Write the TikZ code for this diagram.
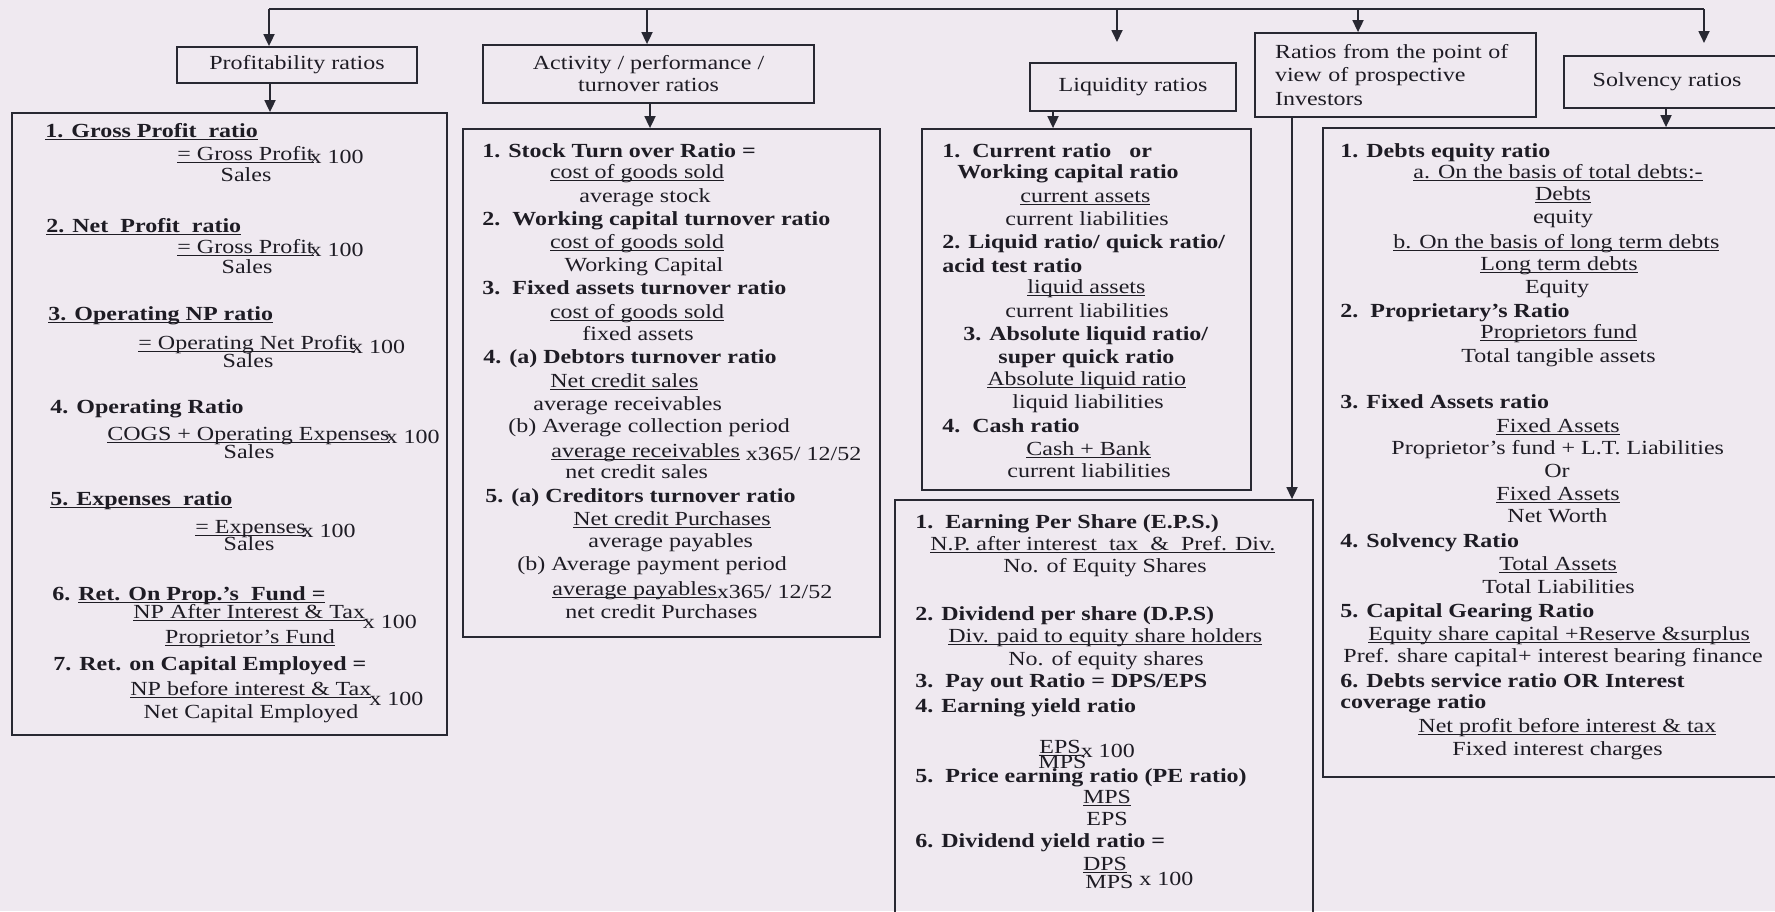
\documentclass[tikz,border=0pt]{standalone}
\usepackage{fontspec}
\setmainfont[FakeStretch=1.2]{Liberation Serif}
\newsavebox{\ulbox}
\newcommand{\uline}[1]{\sbox{\ulbox}{#1}\rlap{\rule[-1.6pt]{\wd\ulbox}{0.6pt}}\usebox{\ulbox}}
\usetikzlibrary{arrows.meta}
\definecolor{bg}{RGB}{239,233,240}
\definecolor{ink}{RGB}{30,28,36}
\definecolor{lnc}{RGB}{40,40,50}
\newcommand{\xh}[1]{\raisebox{#1}{x 100}}
\begin{document}
\begin{tikzpicture}[x=0.5pt,y=-0.5pt,
  lt/.style={anchor=west, inner sep=0pt, text height=7pt, text depth=2pt, text=ink},
  ct/.style={anchor=center, inner sep=0pt, text height=7pt, text depth=2pt, text=ink},
  bf/.style={font=\bfseries},
  hbox/.style={draw=lnc, line width=0.9pt, inner sep=0pt, align=center, text=ink},
  bbox/.style={draw=lnc, line width=0.9pt, inner sep=0pt},
  ln/.style={draw=lnc, line width=0.9pt},
  arr/.style={draw=lnc, line width=0.9pt, -{Triangle[width=5.5pt,length=6pt]}}]
\useasboundingbox (0,0) rectangle (1775,911);
\fill[bg] (0,0) rectangle (1775,911);
\clip (0,0) rectangle (1775,911);

% header boxes
\node[hbox, minimum width=120pt, minimum height=18pt] (prof) at (297,65) {Profitability ratios};
\node[hbox, minimum width=165.5pt, minimum height=29pt, font=\fontsize{10pt}{11pt}\selectfont] (act) at (648.5,74) {Activity / performance /\\ turnover ratios};
\node[hbox, minimum width=103pt, minimum height=24pt] (liq) at (1133,87) {Liquidity ratios};
\node[hbox, minimum width=140.5pt, minimum height=42pt, inner xsep=10pt, text width=120.5pt, align=left, font=\fontsize{10pt}{11.75pt}\selectfont] (inv) at (1395.5,75) {Ratios from the point of\\ view of prospective\\ Investors};
\node[hbox, minimum width=113pt, minimum height=26pt] (solv) at (1677,82) {\hspace*{-10pt}Solvency ratios};

% big boxes
\node[bbox, minimum width=217.5pt, minimum height=311pt] (b1) at (229.5,424) {};
\node[bbox, minimum width=208.5pt, minimum height=254pt] (b2) at (671.5,383) {};
\node[bbox, minimum width=164.5pt, minimum height=180.5pt] (b3) at (1086.5,309.5) {};
\node[bbox, minimum width=209pt, minimum height=215pt] (b4) at (1104,715) {};
\node[bbox, minimum width=233.5pt, minimum height=324.5pt] (b5) at (1556.5,452.5) {};

% connectors
\coordinate (t1) at (269,9);
\coordinate (t2) at (647,9);
\coordinate (t3) at (1117,9);
\coordinate (t4) at (1358,9);
\coordinate (t5) at (1704,9);
\coordinate (f3) at (1117,42);
\coordinate (f5) at (1704,43);
\draw[ln] (t1) -- (t5);
\draw[arr] (t1) -- (t1 |- prof.north);
\draw[arr] (t2) -- (t2 |- act.north);
\draw[arr] (t3) -- (f3);
\draw[arr] (t4) -- (t4 |- inv.north);
\draw[arr] (t5) -- (f5);
\coordinate (c1) at (270,0);
\coordinate (c2) at (650,0);
\coordinate (c3) at (1053,0);
\coordinate (c4) at (1292,0);
\coordinate (c5) at (1666,0);
\draw[arr] (prof.south -| c1) -- (b1.north -| c1);
\draw[arr] (act.south -| c2) -- (b2.north -| c2);
\draw[arr] (liq.south -| c3) -- (b3.north -| c3);
\draw[arr] (inv.south -| c4) -- (b4.north -| c4);
\draw[arr] (solv.south -| c5) -- (b5.north -| c5);

% box 1: profitability
\node[lt,bf] (p1) at (45,132) {\uline{1. Gross Profit\ \ ratio}};
\node[lt] (p2) at (177,155) {\uline{= Gross Profit}\kern-2pt\xh{-1.5pt}};
\node[ct] (p3) at (246,176) {Sales};
\node[lt,bf] (p4) at (46,227) {\uline{2. Net\ \ Profit\ \ ratio}};
\node[lt] (p5) at (177,248) {\uline{= Gross Profit}\kern-2pt\xh{-1.5pt}};
\node[ct] (p6) at (247,268) {Sales};
\node[lt,bf] (p7) at (48,315) {\uline{3. Operating NP ratio}};
\node[lt] (p8) at (138,344) {\uline{= Operating Net Profit}\kern-2pt\xh{-2pt}};
\node[ct] (p9) at (248,362) {Sales};
\node[lt,bf] (p10) at (50,408) {4. Operating Ratio};
\node[lt] (p11) at (107,435) {\uline{COGS + Operating Expenses}\kern-2pt\xh{-1.5pt}};
\node[ct] (p12) at (249,453) {Sales};
\node[lt,bf] (p13) at (50,500) {\uline{5. Expenses\ \ ratio}};
\node[lt] (p14) at (195,528) {\uline{= Expenses}\kern-2pt\xh{-2pt}};
\node[ct] (p15) at (249,545) {Sales};
\node[lt,bf] (p16) at (52,595) {6. \uline{Ret. On Prop.'s\ \ Fund =}};
\node[lt] (p17) at (133,613) {\uline{NP After Interest \& Tax}\kern-1pt\xh{-5pt}};
\node[ct] (p18) at (250,638) {\uline{Proprietor's Fund}};
\node[lt,bf] (p19) at (53,665) {7. Ret. on Capital Employed =};
\node[lt] (p20) at (130,690) {\uline{NP before interest \& Tax}\kern-1pt\xh{-5pt}};
\node[ct] (p21) at (251,713) {Net Capital Employed};

% box 2: activity
\node[lt,bf] (a1) at (482,152) {1. Stock Turn over Ratio =};
\node[ct] (a2) at (637,173) {\uline{cost of goods sold}};
\node[ct] (a3) at (645,197) {average stock};
\node[lt,bf] (a4) at (482,220) {2.\ \ Working capital turnover ratio};
\node[ct] (a5) at (637,243) {\uline{cost of goods sold}};
\node[ct] (a6) at (644,266) {Working Capital};
\node[lt,bf] (a7) at (482,289) {3.\ \ Fixed assets turnover ratio};
\node[ct] (a8) at (637,313) {\uline{cost of goods sold}};
\node[ct] (a9) at (638,335) {fixed assets};
\node[lt,bf] (a10) at (483,358) {4. (a) Debtors turnover ratio};
\node[lt] (a11) at (550,382) {\uline{Net credit sales}};
\node[lt] (a12) at (533,405) {average receivables};
\node[lt] (a13) at (508,427) {(b) Average collection period};
\node[lt] (a14) at (551,452) {\uline{average receivables}\ \raisebox{-1.5pt}{x365/ 12/52}};
\node[lt] (a15) at (565,473) {net credit sales};
\node[lt,bf] (a16) at (485,497) {5. (a) Creditors turnover ratio};
\node[lt] (a17) at (573,520) {\uline{Net credit Purchases}};
\node[lt] (a18) at (588,542) {average payables};
\node[lt] (a19) at (517,565) {(b) Average payment period};
\node[lt] (a20) at (552,590) {\uline{average payables}\raisebox{-1.5pt}{x365/ 12/52}};
\node[lt] (a21) at (565,613) {net credit Purchases};

% box 3: liquidity
\node[lt,bf] (l1) at (942,152) {1.\ \ Current ratio\ \ \ or};
\node[lt,bf] (l2) at (957,173) {Working capital ratio};
\node[lt] (l3) at (1020,197) {\uline{current assets}};
\node[lt] (l4) at (1005,220) {current liabilities};
\node[lt,bf] (l5) at (942,243) {2. Liquid ratio/ quick ratio/};
\node[lt,bf] (l6) at (942,267) {acid test ratio};
\node[lt] (l7) at (1027,288) {\uline{liquid assets}};
\node[lt] (l8) at (1005,312) {current liabilities};
\node[lt,bf] (l9) at (963,335) {3. Absolute liquid ratio/};
\node[lt,bf] (l10) at (998,358) {super quick ratio};
\node[lt] (l11) at (987,380) {\uline{Absolute liquid ratio}};
\node[lt] (l12) at (1012,403) {liquid liabilities};
\node[lt,bf] (l13) at (942,427) {4.\ \ Cash ratio};
\node[lt] (l14) at (1026,450) {\uline{Cash + Bank}};
\node[lt] (l15) at (1007,472) {current liabilities};

% box 4: investors
\node[lt,bf] (e1) at (915,523) {1.\ \ Earning Per Share (E.P.S.)};
\node[lt] (e2) at (930,545) {\uline{N.P. after interest\ \ tax\ \ \&\ \ Pref. Div.}};
\node[lt] (e3) at (1003,567) {No. of Equity Shares};
\node[lt,bf] (e4) at (915,615) {2. Dividend per share (D.P.S)};
\node[lt] (e5) at (948,637) {\uline{Div. paid to equity share holders}};
\node[lt] (e6) at (1008,660) {No. of equity shares};
\node[lt,bf] (e7) at (915,682) {3.\ \ Pay out Ratio = DPS/EPS};
\node[lt,bf] (e8) at (915,707) {4. Earning yield ratio};
\node[lt] (e9) at (1039,748) {\uline{EPS}\xh{-2pt}};
\node[lt] (e10) at (1038,763) {MPS};
\node[lt,bf] (e11) at (915,777) {5.\ \ Price earning ratio (PE ratio)};
\node[ct] (e12) at (1107,798) {\uline{MPS}};
\node[ct] (e13) at (1107,820) {EPS};
\node[lt,bf] (e14) at (915,842) {6. Dividend yield ratio =};
\node[ct] (e15) at (1105,865) {\uline{DPS}};
\node[lt] (e16) at (1085,883) {MPS\ \xh{1.5pt}};

% box 5: solvency
\node[lt,bf] (s1) at (1340,152) {1. Debts equity ratio};
\node[lt] (s2) at (1413,173) {\uline{a. On the basis of total debts:-}};
\node[ct] (s3) at (1563,195) {\uline{Debts}};
\node[ct] (s4) at (1563,218) {equity};
\node[lt] (s5) at (1393,243) {\uline{b. On the basis of long term debts}};
\node[lt] (s6) at (1480,265) {\uline{Long term debts}};
\node[ct] (s7) at (1557,288) {Equity};
\node[lt,bf] (s8) at (1340,312) {2.\ \ Proprietary's Ratio};
\node[lt] (s9) at (1480,333) {\uline{Proprietors fund}};
\node[lt] (s10) at (1461,357) {Total tangible assets};
\node[lt,bf] (s11) at (1340,403) {3. Fixed Assets ratio};
\node[lt] (s12) at (1496,427) {\uline{Fixed Assets}};
\node[lt] (s13) at (1391,449) {Proprietor's fund + L.T. Liabilities};
\node[ct] (s14) at (1557,472) {Or};
\node[lt] (s15) at (1496,495) {\uline{Fixed Assets}};
\node[lt] (s16) at (1507,517) {Net Worth};
\node[lt,bf] (s17) at (1340,542) {4. Solvency Ratio};
\node[lt] (s18) at (1499,565) {\uline{Total Assets}};
\node[lt] (s19) at (1482,588) {Total Liabilities};
\node[lt,bf] (s20) at (1340,612) {5. Capital Gearing Ratio};
\node[lt] (s21) at (1368,635) {\uline{Equity share capital +Reserve \&surplus}};
\node[lt] (s22) at (1343,657) {Pref. share capital+ interest bearing finance};
\node[lt,bf] (s23) at (1340,682) {6. Debts service ratio OR Interest};
\node[lt,bf] (s24) at (1340,703) {coverage ratio};
\node[lt] (s25) at (1418,727) {\uline{Net profit before interest \& tax}};
\node[lt] (s26) at (1452,750) {Fixed interest charges};
\end{tikzpicture}
\end{document}
